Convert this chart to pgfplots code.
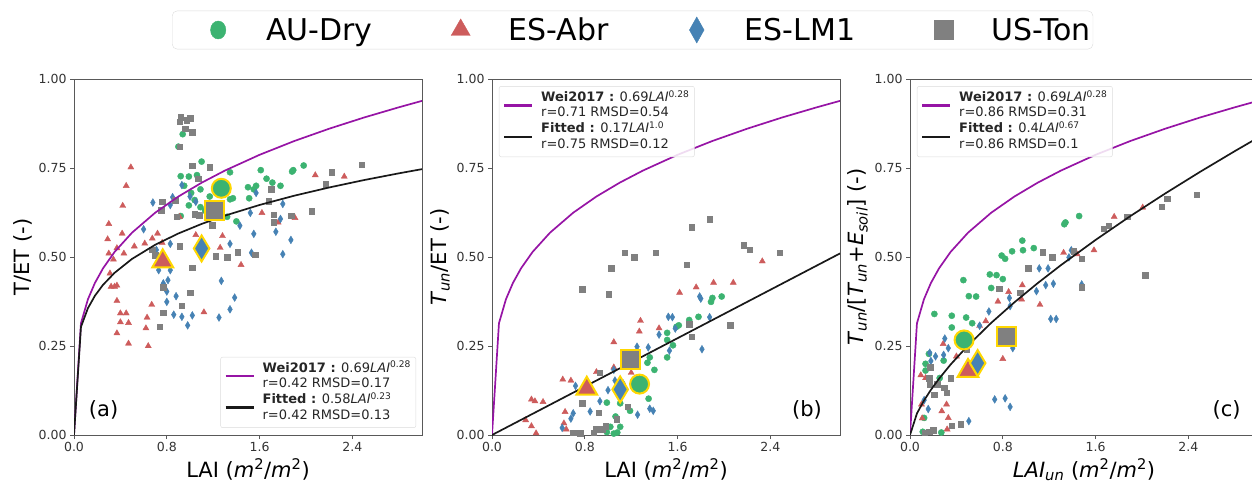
\documentclass[border=0pt]{standalone}
\usepackage{pgfplots}
\pgfplotsset{compat=1.18}
\usepackage{fontspec}
\setmainfont{DejaVu Sans}
\definecolor{audry}{RGB}{60,179,113}
\definecolor{esabr}{RGB}{205,92,92}
\definecolor{eslm}{RGB}{70,130,180}
\definecolor{uston}{RGB}{128,128,128}
\definecolor{goldc}{RGB}{255,215,0}
\definecolor{weic}{RGB}{150,20,165}
\definecolor{legframe}{RGB}{220,220,220}
\newcommand{\legline}[1]{\textcolor{#1}{\rule[2.3pt]{28pt}{2.3pt}}}
\newcommand{\legtext}[2]{\begin{tabular}[c]{@{}l@{}}#1\\#2\end{tabular}}
\tikzset{panellegend/.style={draw=legframe, rounded corners=2pt, fill=white, fill opacity=0.85, text opacity=1,
  inner xsep=5pt, inner ysep=4pt, font=\fontsize{13}{15.5}\selectfont, text=black!85}}
\pgfplotsset{
  panel/.style={
    scale only axis, width=348pt, height=356pt,
    xmin=0, xmax=3.0, ymin=0, ymax=1,
    xtick={0,0.8,1.6,2.4}, xticklabels={0.0,0.8,1.6,2.4},
    ytick={0,0.25,0.5,0.75,1}, yticklabels={0.00,0.25,0.50,0.75,1.00},
    tick label style={font=\fontsize{12.5}{14}\selectfont, black!80},
    label style={font=\fontsize{21}{24}\selectfont},
    tick align=outside, tick pos=left,
    axis line style={black!65, line width=0.8pt},
    major tick style={black!65, line width=0.8pt}, major tick length=4pt,
    clip mode=individual,
  },
  toplegimg/.style={legend image code/.code={\path[draw=none,fill=none] (0pt,-6pt) rectangle (92pt,6pt); \draw[##1] plot coordinates {(46pt,0pt)};}},
  sAU/.style={only marks, mark=*, mark size=3.1pt, color=audry, forget plot},
  sAB/.style={only marks, mark=triangle*, mark size=3.5pt, color=esabr, forget plot},
  sLM/.style={only marks, mark=diamond*, mark size=3.9pt, color=eslm, mark options={xscale=0.8}, forget plot},
  sUS/.style={only marks, mark=square*, mark size=2.8pt, color=uston, forget plot},
  bAU/.style={only marks, mark=*, mark size=9.5pt, mark options={fill=audry, draw=goldc, line width=2pt}, forget plot},
  bAB/.style={only marks, mark=triangle*, mark size=12pt, mark options={fill=esabr, draw=goldc, line width=2pt}, forget plot},
  bLM/.style={only marks, mark=diamond*, mark size=13pt, mark options={fill=eslm, draw=goldc, line width=2pt, xscale=0.8}, forget plot},
  bUS/.style={only marks, mark=square*, mark size=9.5pt, mark options={fill=uston, draw=goldc, line width=2pt}, forget plot},
  wei/.style={weic, line width=1.7pt, forget plot},
  fit/.style={black!90, line width=1.7pt, forget plot},
}
\pgfplotstableread{
x y
0 0
0.06 0.3139
0.12 0.3811
0.18 0.4269
0.25 0.4680
0.35 0.5143
0.5 0.5683
0.7 0.6244
0.9 0.6699
1.1 0.7086
1.3 0.7426
1.6 0.7871
1.9 0.8259
2.2 0.8604
2.5 0.8918
2.8 0.9205
3.0 0.9386
}\weicurve
\pgfplotstableread{
x y
0 0
0.06 0.3037
0.12 0.3562
0.18 0.3910
0.25 0.4217
0.35 0.4556
0.5 0.4946
0.7 0.5343
0.9 0.5661
1.1 0.5929
1.3 0.6161
1.6 0.6462
1.9 0.6723
2.2 0.6953
2.5 0.7161
2.8 0.7350
3.0 0.7468
}\fita
\pgfplotstableread{
x y
0 0
3.0 0.51
}\fitb
\pgfplotstableread{
x y
0 0
0.06 0.0607
0.12 0.0966
0.18 0.1268
0.25 0.1580
0.35 0.1980
0.5 0.2514
0.7 0.3150
0.9 0.3727
1.1 0.4264
1.3 0.4769
1.6 0.5480
1.9 0.6150
2.2 0.6784
2.5 0.7391
2.8 0.7974
3.0 0.8352
}\fitc
\begin{document}
\begin{tikzpicture}
\useasboundingbox (0,0) rectangle (1252pt,483pt);
% ---------------- panel (a)
\begin{axis}[panel, at={(74pt,48pt)}, anchor=south west,
  xlabel={LAI (\textit{m}\textsuperscript{2}/\textit{m}\textsuperscript{2})},
  ylabel={T/ET (-)}]
\addplot[sAU] table {
0.937 0.845
0.90 0.81
1.10 0.768
0.92 0.727
0.99 0.726
1.06 0.73
0.95 0.70
1.09 0.69
1.345 0.738
1.01 0.68
1.17 0.67
0.99 0.645
1.09 0.64
1.13 0.63
1.345 0.662
1.32 0.613
1.40 0.60
1.50 0.696
1.51 0.665
1.57 0.70
1.61 0.744
1.66 0.72
1.71 0.709
1.78 0.70
1.89 0.744
1.88 0.74
1.98 0.757
0.92 0.615
1.55 0.69
1.04 0.66
1.37 0.665
};
\addplot[sAB] table {
0.49 0.752
0.45 0.70
0.42 0.644
0.30 0.593
0.29 0.55
0.415 0.566
0.37 0.525
0.30 0.51
0.34 0.493
0.43 0.51
0.52 0.53
0.61 0.538
0.675 0.552
0.72 0.566
0.76 0.54
0.31 0.454
0.32 0.417
0.35 0.417
0.37 0.42
0.37 0.377
0.40 0.342
0.45 0.342
0.40 0.317
0.47 0.315
0.37 0.286
0.47 0.257
0.67 0.366
0.63 0.33
0.62 0.30
0.64 0.25
1.05 0.562
1.28 0.559
1.26 0.526
1.12 0.345
1.44 0.478
1.62 0.624
1.76 0.597
1.905 0.61
2.08 0.73
2.33 0.726
0.91 0.613
};
\addplot[sLM] table {
0.68 0.653
0.60 0.578
0.83 0.646
0.85 0.668
0.93 0.702
1.0 0.67
1.05 0.655
0.71 0.52
0.83 0.537
0.73 0.463
0.83 0.463
0.77 0.426
0.81 0.435
0.80 0.403
0.88 0.39
0.80 0.374
0.86 0.338
0.93 0.332
1.02 0.336
0.98 0.308
1.25 0.33
1.345 0.353
1.385 0.386
1.27 0.433
1.345 0.537
1.43 0.588
1.52 0.624
1.55 0.565
1.57 0.68
1.74 0.571
1.78 0.607
1.80 0.649
1.80 0.508
1.87 0.548
1.53 0.512
};
\addplot[sUS] table {
0.91 0.88
0.92 0.893
0.97 0.885
1.0 0.89
0.96 0.86
1.02 0.85
0.91 0.81
1.02 0.756
1.17 0.752
1.07 0.72
0.87 0.66
0.76 0.655
0.75 0.632
0.885 0.613
1.08 0.617
1.19 0.59
0.675 0.52
0.70 0.505
0.91 0.53
1.02 0.47
1.22 0.503
1.32 0.50
1.41 0.514
1.56 0.507
1.0 0.40
0.93 0.363
0.77 0.415
0.77 0.343
0.74 0.304
1.70 0.69
1.68 0.656
1.72 0.619
1.72 0.597
1.87 0.616
2.05 0.629
2.17 0.705
2.22 0.738
2.48 0.759
1.04 0.62
};
\addplot[wei] table {\weicurve};
\addplot[fit] table {\fita};
\addplot[bAU] coordinates {(1.27,0.693)};
\addplot[bAB] coordinates {(0.765,0.488)};
\addplot[bLM] coordinates {(1.10,0.524)};
\addplot[bUS] coordinates {(1.207,0.63)};
\node[font=\fontsize{21}{24}\selectfont] at (rel axis cs:0.085,0.07) {(a)};
\node[panellegend, anchor=south east] at (rel axis cs:0.983,0.02) {\begin{tabular}{@{}l@{\hspace{9pt}}l@{}}
\legline{weic} & \legtext{\textbf{Wei2017 :} 0.69\textit{LAI}\textsuperscript{0.28}}{r=0.42 RMSD=0.17}\\[3pt]
\legline{black!90} & \legtext{\textbf{Fitted :} 0.58\textit{LAI}\textsuperscript{0.23}}{r=0.42 RMSD=0.13}
\end{tabular}};
\end{axis}
% ---------------- panel (b)
\begin{axis}[panel, at={(492pt,48pt)}, anchor=south west,
  xlabel={LAI (\textit{m}\textsuperscript{2}/\textit{m}\textsuperscript{2})},
  ylabel={\textit{T}\textsubscript{\textit{un}}/ET (-)}]
\addplot[sAU] table {
1.98 0.389
1.90 0.385
1.888 0.374
1.78 0.332
1.70 0.323
1.61 0.308
1.59 0.304
1.51 0.287
1.51 0.267
1.56 0.252
1.51 0.218
1.36 0.218
1.34 0.203
1.40 0.183
1.35 0.102
1.19 0.068
1.105 0.089
1.065 0.052
0.99 0.091
1.02 0.023
1.08 0.007
0.99 0.008
1.105 0.023
1.05 0.004
};
\addplot[sAB] table {
2.33 0.488
2.08 0.428
1.91 0.428
1.76 0.415
1.617 0.40
1.28 0.321
1.27 0.291
1.44 0.30
1.05 0.261
1.05 0.19
1.20 0.175
0.90 0.177
0.61 0.156
0.68 0.153
0.34 0.10
0.37 0.095
0.44 0.093
0.29 0.042
0.34 0.025
0.38 0.005
0.63 0.065
0.62 0.033
0.64 0.016
};
\addplot[sLM] table {
1.52 0.332
1.555 0.331
1.79 0.389
1.80 0.383
1.876 0.331
1.44 0.282
1.58 0.299
1.53 0.237
1.347 0.246
1.25 0.248
1.81 0.241
1.36 0.074
1.39 0.068
1.255 0.057
1.05 0.183
1.06 0.153
1.00 0.126
0.93 0.095
0.846 0.066
0.70 0.061
0.68 0.046
0.605 0.02
0.72 0.138
1.13 0.145
};
\addplot[sUS] table {
1.876 0.606
1.72 0.583
2.17 0.533
2.22 0.52
2.48 0.512
1.145 0.512
1.226 0.499
1.41 0.512
1.68 0.478
1.03 0.468
0.777 0.409
1.007 0.396
2.055 0.308
1.70 0.311
1.72 0.276
0.93 0.175
0.777 0.089
1.17 0.08
0.92 0.063
1.076 0.044
0.98 0.025
0.90 0.016
0.70 0.007
0.76 0.005
0.875 0.007
0.955 0.016
};
\addplot[wei] table {\weicurve};
\addplot[fit] table {\fitb};
\addplot[bAU] coordinates {(1.272,0.143)};
\addplot[bAB] coordinates {(0.817,0.130)};
\addplot[bLM] coordinates {(1.105,0.128)};
\addplot[bUS] coordinates {(1.197,0.2125)};
\node[font=\fontsize{21}{24}\selectfont] at (rel axis cs:0.905,0.07) {(b)};
\node[panellegend, anchor=north west] at (rel axis cs:0.02,0.98) {\begin{tabular}{@{}l@{\hspace{9pt}}l@{}}
\legline{weic} & \legtext{\textbf{Wei2017 :} 0.69\textit{LAI}\textsuperscript{0.28}}{r=0.71 RMSD=0.54}\\[3pt]
\legline{black!90} & \legtext{\textbf{Fitted :} 0.17\textit{LAI}\textsuperscript{1.0}}{r=0.75 RMSD=0.12}
\end{tabular}};
\end{axis}
% ---------------- panel (c)
\begin{axis}[panel, at={(910pt,48pt)}, anchor=south west,
  xlabel={\textit{LAI}\textsubscript{\textit{un}} (\textit{m}\textsuperscript{2}/\textit{m}\textsuperscript{2})},
  ylabel={\textit{T}\textsubscript{\textit{un}}/[\textit{T}\textsubscript{\textit{un}}+\textit{E}\textsubscript{\textit{soil}}] (-)}]
\addplot[sAU] table {
1.458 0.615
1.34 0.597
1.33 0.592
0.968 0.546
1.067 0.525
0.974 0.519
0.88 0.516
0.79 0.504
0.82 0.495
0.688 0.451
0.746 0.449
0.80 0.438
0.70 0.413
0.46 0.435
0.507 0.39
0.57 0.389
0.21 0.34
0.36 0.335
0.484 0.33
0.536 0.314
0.36 0.302
0.29 0.209
0.163 0.228
0.134 0.20
0.134 0.181
0.256 0.16
0.122 0.048
0.11 0.009
0.27 0.007
};
\addplot[sAB] table {
2.006 0.639
1.76 0.613
1.586 0.519
1.324 0.512
1.44 0.508
0.968 0.421
0.85 0.402
0.962 0.381
0.758 0.375
1.12 0.366
0.653 0.32
0.60 0.307
0.286 0.256
0.40 0.221
0.80 0.214
0.093 0.168
0.134 0.16
0.315 0.086
0.274 0.067
0.33 0.048
0.099 0.086
0.105 0.047
0.32 0.016
};
\addplot[sLM] table {
1.39 0.519
1.37 0.499
1.114 0.468
1.19 0.468
1.09 0.404
1.17 0.421
1.236 0.425
0.857 0.385
0.863 0.362
1.48 0.423
1.213 0.326
1.26 0.326
0.68 0.347
0.60 0.307
0.30 0.271
0.33 0.244
0.29 0.225
0.22 0.221
0.17 0.231
0.18 0.208
0.886 0.244
0.73 0.10
0.82 0.103
0.863 0.079
0.507 0.039
0.122 0.098
0.157 0.073
};
\addplot[sUS] table {
2.47 0.675
2.216 0.664
2.17 0.641
1.87 0.613
1.714 0.588
1.67 0.58
1.41 0.516
1.143 0.514
1.224 0.50
1.48 0.495
1.02 0.468
2.03 0.449
1.48 0.415
0.77 0.411
0.95 0.40
0.49 0.24
0.175 0.19
0.163 0.159
0.17 0.143
0.35 0.16
0.233 0.143
0.297 0.133
0.315 0.119
0.21 0.113
0.437 0.031
0.36 0.026
0.198 0.014
0.163 0.009
0.128 0.007
};
\addplot[wei] table {\weicurve};
\addplot[fit] table {\fitc};
\addplot[bAU] coordinates {(0.466,0.267)};
\addplot[bAB] coordinates {(0.50,0.180)};
\addplot[bLM] coordinates {(0.583,0.202)};
\addplot[bUS] coordinates {(0.828,0.276)};
\node[font=\fontsize{21}{24}\selectfont] at (rel axis cs:0.91,0.07) {(c)};
\node[panellegend, anchor=north west] at (rel axis cs:0.02,0.98) {\begin{tabular}{@{}l@{\hspace{9pt}}l@{}}
\legline{weic} & \legtext{\textbf{Wei2017 :} 0.69\textit{LAI}\textsuperscript{0.28}}{r=0.86 RMSD=0.31}\\[3pt]
\legline{black!90} & \legtext{\textbf{Fitted :} 0.4\textit{LAI}\textsuperscript{0.67}}{r=0.86 RMSD=0.1}
\end{tabular}};
\end{axis}
% ---------------- top legend
\begin{axis}[at={(172pt,448pt)}, anchor=south west, hide axis, scale only axis,
  width=10pt, height=10pt, xmin=0, xmax=1, ymin=0, ymax=1,
  legend columns=4,
  legend style={at={(0,0.5)}, anchor=west, font=\fontsize{30}{34}\selectfont,
    draw=legframe, rounded corners=5pt, inner ysep=5pt, inner xsep=0pt,
    /tikz/every even column/.append style={column sep=40pt}}]
\addlegendimage{only marks, mark=*, mark size=9pt, mark options={draw=audry, fill=audry, xscale=0.85}, toplegimg}
\addlegendentry{AU-Dry}
\addlegendimage{only marks, mark=triangle*, mark size=11pt, mark options={draw=esabr, fill=esabr}, toplegimg}
\addlegendentry{ES-Abr}
\addlegendimage{only marks, mark=diamond*, mark size=13pt, mark options={draw=eslm, fill=eslm, xscale=0.75}, toplegimg}
\addlegendentry{ES-LM1}
\addlegendimage{only marks, mark=square*, mark size=9.5pt, mark options={draw=uston, fill=uston}, toplegimg}
\addlegendentry{US-Ton\hspace{18pt}}
\end{axis}
\end{tikzpicture}
\end{document}
